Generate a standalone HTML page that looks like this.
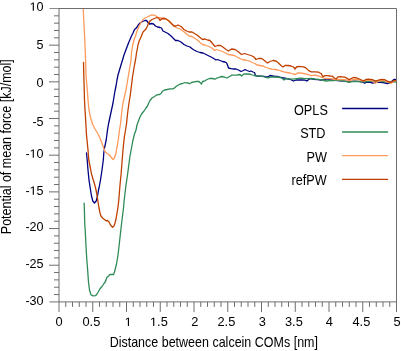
<!DOCTYPE html>
<html><head><meta charset="utf-8"><style>
html,body{margin:0;padding:0;background:#fff;}
svg{display:block;will-change:transform;}
text{font-family:"Liberation Sans",sans-serif;fill:#000;}
</style></head><body>
<svg width="401" height="351" viewBox="0 0 401 351">
<rect width="401" height="351" fill="#fff"/>
<defs><clipPath id="c"><rect x="59" y="8.5" width="337.5" height="293.5"/></clipPath></defs>
<g clip-path="url(#c)" fill="none" stroke-width="1.3" stroke-linejoin="round" stroke-linecap="round">
<polyline points="86.5,153.0 87.2,160.0 88.0,170.0 89.0,180.0 90.2,188.0 91.5,196.0 92.8,201.0 94.5,203.0 96.2,201.0 97.5,196.0 98.5,190.0 99.0,188.0 100.5,180.0 102.0,170.0 103.3,160.0 103.8,153.0 104.5,148.0 106.2,140.0 107.5,130.0 108.5,124.0 110.0,117.0 111.5,110.0 113.0,103.0 114.3,95.0 115.0,91.0 116.0,86.0 117.0,80.0 118.0,75.0 119.5,70.0 121.0,65.0 122.5,60.0 124.0,55.0 125.5,51.0 127.0,47.0 128.5,43.0 130.0,39.5 131.5,36.0 133.0,33.0 134.5,29.5 136.0,28.2 137.5,26.5 138.2,25.0 140.0,23.0 142.5,21.5 145.0,20.5 146.5,20.5 148.0,22.5 149.5,24.0 151.5,23.5 153.5,24.0 155.5,26.0 157.5,27.0 160.0,27.5 161.5,28.0 163.0,31.0 165.0,32.0 168.0,33.5 171.0,36.0 173.5,38.5 175.5,40.5 178.0,40.5 181.0,42.0 184.0,44.5 187.0,46.0 190.0,47.0 192.5,49.0 194.0,50.0 197.0,51.5 200.0,52.5 203.0,53.0 206.0,54.5 209.0,56.0 212.0,57.5 214.5,59.0 216.0,60.0 217.5,59.5 220.0,60.5 222.5,61.5 225.0,62.0 226.5,62.8 227.5,65.0 228.5,68.0 231.0,68.7 234.0,69.0 236.0,69.0 238.5,70.0 241.0,71.5 243.5,70.5 245.0,69.5 247.0,70.5 249.5,71.5 251.0,71.0 253.0,72.0 254.5,72.5 255.5,75.6 258.0,76.1 261.0,76.1 264.0,76.4 266.0,77.0 268.0,76.8 270.0,75.5 272.5,76.0 275.0,76.5 278.0,76.5 281.0,77.5 283.5,77.8 286.0,78.5 289.0,79.0 291.5,80.0 293.5,81.0 296.0,80.0 299.0,79.8 302.5,80.0 305.0,80.2 306.9,81.0 308.1,80.0 310.0,78.7 313.7,79.3 317.5,79.7 321.2,80.0 325.0,79.7 326.8,79.0 330.0,79.3 333.7,80.0 337.4,80.6 340.0,80.8 344.5,81.2 349.7,81.6 353.5,81.2 358.7,81.4 362.4,82.0 364.7,83.1 366.2,82.3 370.0,82.1 372.5,83.1 375.5,82.3 380.0,82.3 383.0,82.7 387.4,83.5 390.4,82.7 392.7,80.5 394.2,79.3 396.5,79.7" stroke="#000080"/>
<polyline points="84.2,203.2 84.8,225.0 85.2,230.0 85.8,242.0 86.5,255.0 87.0,262.0 87.8,272.0 88.5,282.0 89.5,290.0 91.0,294.8 93.0,295.9 95.5,295.7 97.0,294.0 98.5,291.5 100.0,288.8 102.0,286.5 104.0,283.5 105.5,281.5 106.8,277.5 108.5,276.0 110.0,274.5 112.0,274.5 113.5,274.5 114.5,272.0 115.5,268.0 116.5,264.0 118.0,255.0 119.5,242.0 120.5,233.0 121.5,224.0 122.5,216.0 123.5,208.0 124.2,200.0 124.8,195.0 126.0,185.0 127.5,175.0 128.8,165.0 130.0,156.0 131.5,148.0 133.0,140.0 134.5,134.0 136.0,130.0 137.0,125.0 138.5,121.0 140.0,117.0 141.5,114.0 144.0,111.0 146.0,108.0 147.5,106.0 148.5,103.5 150.0,100.5 152.0,98.0 154.5,96.5 157.0,94.8 159.5,94.5 161.0,93.5 162.5,91.2 164.5,90.0 167.0,89.5 170.0,88.8 173.5,88.8 175.5,87.0 177.5,85.5 180.0,84.2 182.5,83.5 185.0,82.5 186.5,83.0 188.0,82.8 189.5,83.8 191.5,82.5 194.0,81.8 196.5,81.5 199.0,81.5 200.5,83.0 201.5,84.0 202.5,81.5 205.0,80.8 207.0,79.5 209.5,78.5 212.5,78.5 215.0,79.2 217.5,77.8 220.0,77.0 222.0,76.5 224.5,77.2 227.0,78.0 229.5,76.5 232.0,75.2 235.0,75.2 237.5,75.0 240.0,74.5 241.5,76.0 243.5,74.2 245.0,74.0 248.0,74.0 251.0,74.5 254.0,75.5 257.0,76.2 261.0,76.2 263.0,76.5 266.0,77.5 268.0,77.8 271.0,77.0 274.0,77.0 277.0,77.0 280.0,77.5 282.0,78.2 284.0,80.0 286.0,78.5 289.0,78.8 292.0,79.2 295.0,78.8 298.0,78.5 300.0,78.2 303.7,78.5 307.5,78.7 311.2,78.5 315.0,79.0 318.7,79.3 322.4,80.0 326.2,81.0 330.0,80.6 333.7,80.6 337.4,80.2 340.0,80.5 344.5,81.1 348.2,82.0 349.7,82.3 351.2,81.6 356.0,81.3 362.0,81.8 368.0,81.5 375.5,80.8 382.0,81.5 388.0,81.8 391.2,82.0 396.5,81.8" stroke="#2e8b57"/>
<polyline points="83.0,5.0 83.2,9.0 84.0,25.0 84.8,40.0 85.5,57.5 86.0,75.0 87.5,92.5 88.0,100.0 89.0,110.0 90.5,117.5 92.5,124.0 95.0,129.0 97.5,133.0 99.5,137.0 101.5,142.0 103.5,147.5 105.0,151.5 107.0,153.5 109.0,154.5 111.0,157.0 113.0,159.5 114.5,158.0 116.0,153.0 116.8,148.0 117.5,145.0 118.5,138.0 119.5,130.0 120.5,124.0 121.2,117.0 122.0,110.0 123.0,103.0 124.8,95.0 126.0,90.0 127.0,84.0 128.0,78.0 129.0,72.0 130.0,66.0 131.0,60.0 131.5,53.0 132.5,46.0 134.0,40.0 135.5,36.0 137.0,31.0 139.0,26.5 141.0,22.5 143.0,19.5 145.0,18.0 147.5,17.0 150.0,15.5 151.5,15.0 154.0,15.2 156.0,16.0 158.0,17.5 160.0,18.0 163.0,18.0 165.0,18.5 167.0,19.5 169.0,21.0 172.0,24.5 176.0,27.5 180.0,29.0 183.0,31.0 186.0,33.5 189.0,36.0 192.0,36.5 195.0,38.5 198.0,40.5 200.0,42.5 202.5,44.5 205.0,45.0 207.5,46.0 210.0,47.0 212.5,48.5 214.5,50.5 216.5,49.5 219.5,50.5 222.5,51.5 225.5,53.0 228.5,54.5 231.5,55.0 234.5,55.5 237.0,57.0 240.0,58.5 243.0,60.0 246.0,60.0 249.0,61.0 252.0,62.5 255.0,63.5 257.0,65.0 260.0,65.5 263.0,66.0 266.0,67.5 269.0,68.5 272.0,69.2 275.0,69.5 278.0,70.0 281.0,71.0 284.0,71.8 287.0,72.5 290.0,73.0 293.0,74.0 295.5,74.5 297.5,73.0 300.0,72.8 303.7,73.5 307.5,74.3 311.2,75.6 315.0,75.2 318.7,76.0 322.4,77.7 325.0,78.5 328.7,78.7 332.4,79.0 336.2,79.7 340.0,79.3 344.5,79.6 347.5,80.1 349.7,80.8 352.7,79.7 355.7,79.3 358.7,79.7 361.7,80.8 363.9,81.2 366.2,80.1 370.0,80.4 372.5,80.8 375.5,83.3 378.5,81.2 383.0,80.5 387.4,82.0 391.2,83.3 393.4,81.2 396.5,80.8" stroke="#ff9a5a"/>
<polyline points="83.5,62.5 83.8,75.0 84.3,92.5 84.5,100.0 85.0,110.0 85.5,117.5 86.5,135.0 87.0,140.0 88.0,150.0 88.8,160.0 90.0,166.0 91.5,174.0 93.0,179.0 94.5,184.0 95.8,189.0 97.0,195.0 98.2,203.0 99.0,208.0 100.0,213.0 101.0,216.0 102.5,218.0 104.5,219.5 106.0,220.8 107.5,220.5 109.0,222.0 110.5,225.0 112.5,227.2 114.0,226.0 115.0,223.0 116.0,219.0 117.0,213.0 118.0,207.0 118.8,200.0 119.2,195.0 120.0,185.0 121.0,175.0 121.8,165.0 122.5,156.0 123.0,150.0 123.8,142.0 124.5,136.0 125.5,130.0 126.5,124.0 127.2,117.0 128.0,110.0 129.0,103.0 130.3,95.0 131.0,89.0 131.8,83.0 132.5,77.0 133.5,71.0 134.5,65.0 135.5,60.0 136.5,53.0 138.0,45.0 139.2,41.0 141.0,37.0 143.0,32.0 144.5,30.5 146.0,29.0 147.5,26.0 148.5,23.0 150.0,21.0 152.0,19.5 154.5,18.5 157.0,17.5 158.5,18.0 160.0,20.5 161.5,19.0 164.0,18.5 166.0,19.0 168.0,20.3 171.0,23.0 174.0,26.0 176.0,26.0 178.0,25.0 181.0,26.5 184.0,29.5 186.5,31.0 189.0,32.0 192.0,32.0 194.5,33.5 197.0,35.0 200.0,37.5 202.5,39.5 205.0,39.0 207.5,40.0 210.0,40.5 212.5,43.5 215.0,46.5 217.5,45.5 220.5,45.5 223.5,47.5 226.0,49.5 228.5,51.0 231.5,49.0 235.0,49.5 238.0,51.5 241.5,54.5 244.5,53.5 247.5,54.5 251.0,55.5 254.0,57.0 256.0,59.5 258.5,58.5 261.5,58.5 262.5,59.0 265.0,61.0 267.5,63.0 270.0,61.5 273.0,60.5 276.0,61.0 278.5,63.0 281.0,65.5 283.0,67.0 285.0,65.5 288.0,65.5 291.0,66.0 293.5,67.0 295.0,69.0 296.5,67.0 299.0,66.5 301.0,66.6 303.7,66.9 306.2,68.1 308.7,70.6 311.2,71.8 315.0,71.8 318.7,72.2 321.2,73.7 323.0,76.8 325.0,75.6 327.4,75.6 330.0,76.0 332.4,76.2 334.3,78.0 336.2,79.0 338.0,76.8 340.0,76.6 344.5,77.1 347.1,78.2 349.0,79.7 351.2,78.6 353.5,77.5 356.5,77.9 359.4,79.0 362.4,80.5 363.9,80.8 366.2,79.3 368.4,79.1 372.5,79.6 375.5,81.2 378.5,80.1 381.5,79.3 384.5,79.6 387.4,81.2 390.4,82.3 391.9,81.6 394.2,80.5 396.5,81.2" stroke="#c04000"/>
</g>
<g fill="none" stroke="#6e6e6e" stroke-width="1">
<path d="M59.0,8.5H396.5V311.9"/>
<path d="M49.5,8.5H59.0" stroke="#8a8a8a"/>
<path d="M59.0,8.5V311.9M49.5,301.9H396.5"/>
<path d="M65.75,301.90v5M72.50,301.90v5M79.25,301.90v5M86.00,301.90v5M92.75,301.90v10M99.50,301.90v5M106.25,301.90v5M113.00,301.90v5M119.75,301.90v5M126.50,301.90v10M133.25,301.90v5M140.00,301.90v5M146.75,301.90v5M153.50,301.90v5M160.25,301.90v10M167.00,301.90v5M173.75,301.90v5M180.50,301.90v5M187.25,301.90v5M194.00,301.90v10M200.75,301.90v5M207.50,301.90v5M214.25,301.90v5M221.00,301.90v5M227.75,301.90v10M234.50,301.90v5M241.25,301.90v5M248.00,301.90v5M254.75,301.90v5M261.50,301.90v10M268.25,301.90v5M275.00,301.90v5M281.75,301.90v5M288.50,301.90v5M295.25,301.90v10M302.00,301.90v5M308.75,301.90v5M315.50,301.90v5M322.25,301.90v5M329.00,301.90v10M335.75,301.90v5M342.50,301.90v5M349.25,301.90v5M356.00,301.90v5M362.75,301.90v10M369.50,301.90v5M376.25,301.90v5M383.00,301.90v5M389.75,301.90v5M59.00,294.56h-5M59.00,287.23h-5M59.00,279.89h-5M59.00,272.56h-5M59.00,265.23h-10M59.00,257.89h-5M59.00,250.56h-5M59.00,243.22h-5M59.00,235.88h-5M59.00,228.55h-10M59.00,221.22h-5M59.00,213.88h-5M59.00,206.54h-5M59.00,199.21h-5M59.00,191.88h-10M59.00,184.54h-5M59.00,177.21h-5M59.00,169.87h-5M59.00,162.53h-5M59.00,155.20h-10M59.00,147.87h-5M59.00,140.53h-5M59.00,133.19h-5M59.00,125.86h-5M59.00,118.53h-10M59.00,111.19h-5M59.00,103.86h-5M59.00,96.52h-5M59.00,89.19h-5M59.00,81.85h-10M59.00,74.52h-5M59.00,67.18h-5M59.00,59.84h-5M59.00,52.51h-5M59.00,45.17h-10M59.00,37.84h-5M59.00,30.50h-5M59.00,23.17h-5M59.00,15.84h-5"/>
</g>
<g font-size="12">
<g transform="translate(43.60,304.70) scale(1.05,1)"><text x="0" y="0" text-anchor="end" font-size="12">-30</text></g><g transform="translate(43.60,268.00) scale(1.05,1)"><text x="0" y="0" text-anchor="end" font-size="12">-25</text></g><g transform="translate(43.60,231.00) scale(1.05,1)"><text x="0" y="0" text-anchor="end" font-size="12">-20</text></g><g transform="translate(43.60,194.70) scale(1.05,1)"><text x="0" y="0" text-anchor="end" font-size="12">- 5</text><path d="M515,0L515,1237L197,1010L197,1180L530,1409L696,1409L696,0Z" transform="translate(-13.348,0) scale(0.005859,-0.005859)" fill="#000"/></g><g transform="translate(43.60,157.70) scale(1.05,1)"><text x="0" y="0" text-anchor="end" font-size="12">- 0</text><path d="M515,0L515,1237L197,1010L197,1180L530,1409L696,1409L696,0Z" transform="translate(-13.348,0) scale(0.005859,-0.005859)" fill="#000"/></g><g transform="translate(43.60,125.90) scale(1.05,1)"><text x="0" y="0" text-anchor="end" font-size="12">-5</text></g><g transform="translate(43.60,86.60) scale(1.05,1)"><text x="0" y="0" text-anchor="end" font-size="12">0</text></g><g transform="translate(43.60,48.70) scale(1.05,1)"><text x="0" y="0" text-anchor="end" font-size="12">5</text></g><g transform="translate(43.60,10.80) scale(1.05,1)"><text x="0" y="0" text-anchor="end" font-size="12"> 0</text><path d="M515,0L515,1237L197,1010L197,1180L530,1409L696,1409L696,0Z" transform="translate(-13.348,0) scale(0.005859,-0.005859)" fill="#000"/></g>
<g transform="translate(59.00,325.90) scale(1.07,1)"><text x="0" y="0" text-anchor="middle" font-size="12">0</text></g><g transform="translate(91.35,325.90) scale(1.07,1)"><text x="0" y="0" text-anchor="middle" font-size="12">0.5</text></g><g transform="translate(128.20,325.90) scale(1.07,1)"><text x="0" y="0" text-anchor="middle" font-size="12"> </text><path d="M515,0L515,1237L197,1010L197,1180L530,1409L696,1409L696,0Z" transform="translate(-3.337,0) scale(0.005859,-0.005859)" fill="#000"/></g><g transform="translate(158.85,325.90) scale(1.07,1)"><text x="0" y="0" text-anchor="middle" font-size="12"> .5</text><path d="M515,0L515,1237L197,1010L197,1180L530,1409L696,1409L696,0Z" transform="translate(-8.341,0) scale(0.005859,-0.005859)" fill="#000"/></g><g transform="translate(194.70,325.90) scale(1.07,1)"><text x="0" y="0" text-anchor="middle" font-size="12">2</text></g><g transform="translate(226.35,325.90) scale(1.07,1)"><text x="0" y="0" text-anchor="middle" font-size="12">2.5</text></g><g transform="translate(262.30,325.90) scale(1.07,1)"><text x="0" y="0" text-anchor="middle" font-size="12">3</text></g><g transform="translate(293.85,325.90) scale(1.07,1)"><text x="0" y="0" text-anchor="middle" font-size="12">3.5</text></g><g transform="translate(329.20,325.90) scale(1.07,1)"><text x="0" y="0" text-anchor="middle" font-size="12">4</text></g><g transform="translate(361.35,325.90) scale(1.07,1)"><text x="0" y="0" text-anchor="middle" font-size="12">4.5</text></g><g transform="translate(397.00,325.90) scale(1.07,1)"><text x="0" y="0" text-anchor="middle" font-size="12">5</text></g>
</g>
<text transform="translate(327.85,114.6) scale(1,1.12)" text-anchor="end" font-size="12.7">OPLS</text><path d="M342.6,108.5H387.6" stroke="#000080" stroke-width="1.3" stroke-linecap="round"/><text transform="translate(325.5,138.1) scale(1,1.12)" text-anchor="end" font-size="12.7">STD</text><path d="M342.6,132.0H387.6" stroke="#2e8b57" stroke-width="1.3" stroke-linecap="round"/><text transform="translate(327,162.4) scale(1,1.12)" text-anchor="end" font-size="12.7">PW</text><path d="M342.6,155.6H387.6" stroke="#ff9a5a" stroke-width="1.3" stroke-linecap="round"/><text transform="translate(326.7,185.2) scale(1,1.12)" text-anchor="end" font-size="12.7">refPW</text><path d="M342.6,179.4H387.6" stroke="#c04000" stroke-width="1.3" stroke-linecap="round"/>
<text transform="translate(213.8,347.1) scale(1,1.12)" text-anchor="middle" font-size="12.5">Distance between calcein COMs [nm]</text>
<text transform="translate(10.8,146.7) rotate(-90) scale(1,1.12)" text-anchor="middle" font-size="12.5">Potential of mean force [kJ/mol]</text>
</svg>
</body></html>
